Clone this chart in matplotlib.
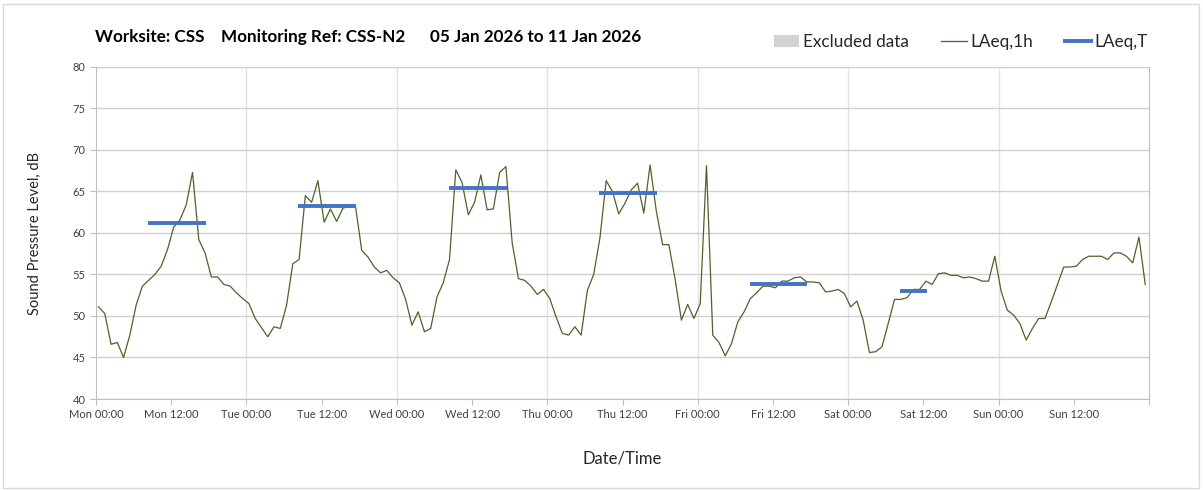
import numpy as np
import matplotlib
matplotlib.use("Agg")
import matplotlib.pyplot as plt
from matplotlib.patches import Patch, Rectangle
from matplotlib.lines import Line2D
from matplotlib import ticker as mpl_ticker

plt.rcParams['font.family'] = ['Lato', 'DejaVu Sans']

# hourly LAeq,1h readings, Mon 00:00 .. Sun 23:00
laeq_1h = [
    51.1, 50.3, 46.6, 46.8, 45.0, 47.7, 51.3, 53.6, 54.3, 55.0, 56.0, 58.0,
    60.7, 61.6, 63.4, 67.3, 59.2, 57.6, 54.7, 54.7, 53.8, 53.6, 52.8, 52.1,
    51.5, 49.7, 48.6, 47.5, 48.7, 48.5, 51.3, 56.3, 56.8, 64.5, 63.7, 66.3,
    61.3, 62.9, 61.4, 63.0, 63.2, 63.2, 57.9, 57.1, 55.9, 55.2, 55.5, 54.6,
    54.0, 52.0, 48.9, 50.5, 48.1, 48.5, 52.3, 54.0, 56.8, 67.6, 66.1, 62.2,
    63.7, 67.0, 62.8, 62.9, 67.3, 68.0, 58.8, 54.5, 54.3, 53.6, 52.6, 53.2,
    52.1, 49.9, 47.9, 47.7, 48.7, 47.7, 53.1, 55.0, 59.4, 66.3, 65.0, 62.3,
    63.6, 65.2, 66.0, 62.4, 68.2, 62.6, 58.6, 58.6, 54.4, 49.5, 51.4, 49.7,
    51.5, 68.1, 47.7, 46.8, 45.2, 46.7, 49.3, 50.5, 52.1, 52.8, 53.6, 53.6,
    53.4, 54.2, 54.2, 54.6, 54.7, 54.1, 54.1, 54.0, 52.9, 53.0, 53.2, 52.7,
    51.1, 51.8, 49.5, 45.6, 45.7, 46.3, 49.1, 52.0, 52.0, 52.2, 53.2, 53.2,
    54.2, 53.8, 55.1, 55.2, 54.9, 54.9, 54.6, 54.7, 54.5, 54.2, 54.2, 57.2,
    53.0, 50.7, 50.1, 49.1, 47.1, 48.5, 49.7, 49.7, 51.7, 53.8, 55.9, 55.9,
    56.0, 56.8, 57.2, 57.2, 57.2, 56.8, 57.6, 57.6, 57.2, 56.4, 59.5, 53.8,
]

# LAeq,T daytime periods (hours from Mon 00:00)
laeq_t_start = [8.3, 32.3, 56.3, 80.3, 104.3, 128.3]
laeq_t_end = [17.5, 41.5, 65.5, 89.5, 113.5, 132.6]
laeq_t_level = [61.2, 63.2, 65.4, 64.8, 53.8, 53.0]

day_names = ['Mon', 'Tue', 'Wed', 'Thu', 'Fri', 'Sat', 'Sun']

title = 'Worksite: CSS    Monitoring Ref: CSS-N2      05 Jan 2026 to 11 Jan 2026'

hours = np.arange(len(laeq_1h)) + 0.4

fig = plt.figure(figsize=(12.03, 4.90), dpi=100)
ax = fig.add_axes([96 / 1203, 91 / 490, 1053 / 1203, 332 / 490])

# chart border
fig.patches.append(Rectangle((3 / 1203, 2 / 490), 1196 / 1203, 484 / 490,
                             transform=fig.transFigure, fill=False,
                             edgecolor='#d9d9d9', linewidth=1))

ax.plot(hours, laeq_1h, color='#4f6228', linewidth=0.9, zorder=3)
for s, e, lv in zip(laeq_t_start, laeq_t_end, laeq_t_level):
    ax.plot([s, e], [lv, lv], color='#4472c4', linewidth=2.8,
            solid_capstyle='butt', zorder=4)

ax.set_xlim(0, 168)
ax.set_ylim(40, 80)
ax.yaxis.set_major_locator(mpl_ticker.MultipleLocator(5))
ax.xaxis.set_major_locator(mpl_ticker.MultipleLocator(12))
ax.xaxis.set_major_formatter(mpl_ticker.FuncFormatter(
    lambda v, p: f'{day_names[int(v // 24) % 7]} {int(v % 24):02d}:00' if v < 168 else ''))

ax.grid(axis='y', color='#d0d0d0', linewidth=1)
for d in range(1, 7):
    ax.axvline(d * 24, color='#e3e3e3', linewidth=1, zorder=0)
ax.set_axisbelow(True)

ax.spines['top'].set_visible(False)
for side in ['left', 'bottom', 'right']:
    ax.spines[side].set_color('#bfbfbf')
ax.tick_params(axis='both', colors='#bfbfbf', labelcolor='#404040',
               labelsize=8, length=4, direction='out')

ax.set_ylabel('Sound Pressure Level, dB', fontsize=10.5, color='#262626', labelpad=22)
ax.set_xlabel('Date/Time', fontsize=12, color='#262626', labelpad=22)

fig.text(95 / 1203, 1 - 37 / 490, title, fontsize=12.3, fontweight='bold',
         va='center', ha='left', color='#000000')

handles = [Patch(facecolor='#d3d3d3', edgecolor='none'),
           Line2D([], [], color='#4f6228', linewidth=0.9),
           Line2D([], [], color='#4472c4', linewidth=2.8)]
fig.legend(handles, ['Excluded data', 'LAeq,1h', 'LAeq,T'], ncol=3,
           loc='center right', bbox_to_anchor=(1163 / 1203, 1 - 42 / 490),
           frameon=False, fontsize=12.3, handlelength=1.5, handletextpad=0.2,
           columnspacing=1.9, labelcolor='#262626')

fig.savefig('out.png', dpi=100)
